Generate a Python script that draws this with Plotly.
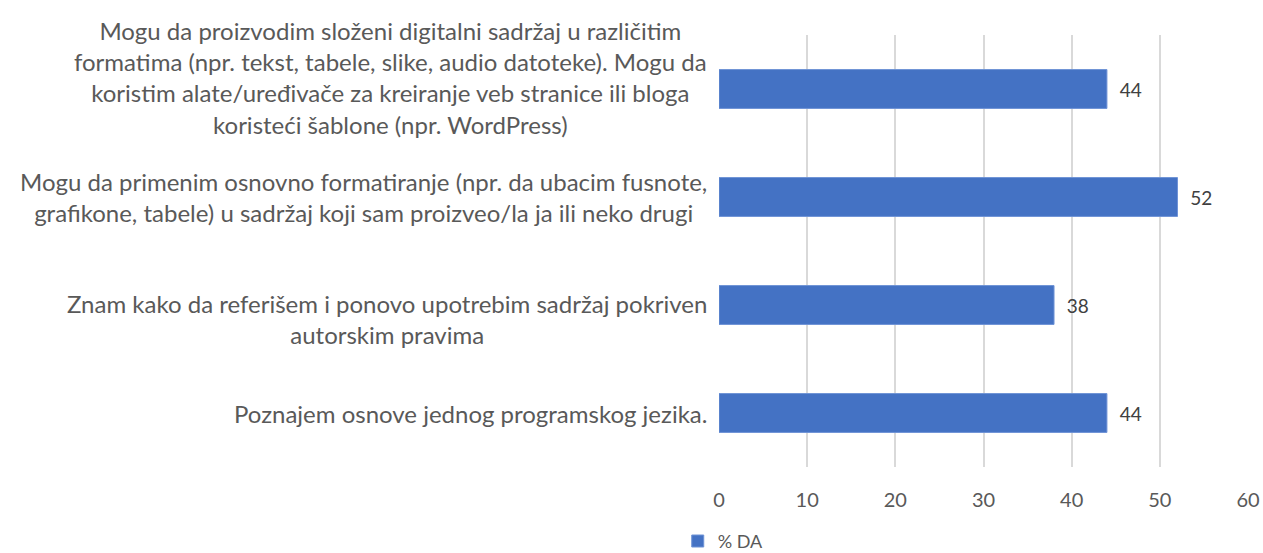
import plotly.graph_objects as go

categories = [
    "Mogu da proizvodim složeni digitalni sadržaj u različitim<br>formatima (npr. tekst, tabele, slike, audio datoteke). Mogu da<br>koristim alate/uređivače za kreiranje veb stranice ili bloga<br>koristeći šablone (npr. WordPress)",
    "Mogu da primenim osnovno formatiranje (npr. da ubacim fusnote,<br>grafikone, tabele) u sadržaj koji sam proizveo/la ja ili neko drugi",
    "Znam kako da referišem i ponovo upotrebim sadržaj pokriven<br>autorskim pravima",
    "Poznajem osnove jednog programskog jezika.",
]
values = [44, 52, 38, 44]
series_name = "% DA"
x_ticks = [0, 10, 20, 30, 40, 50, 60]

# styling: vertical nudges (px) of the category labels relative to their bars
label_yshift = [12, 0, -14, 0]

FONT = "Lato"
BLUE = "#4472C4"

fig = go.Figure()
fig.add_trace(go.Bar(
    y=list(range(len(categories))),
    x=values,
    orientation="h",
    name=series_name,
    marker=dict(color=BLUE, line=dict(color="#6f93d6", width=1)),
    text=[str(v) for v in values],
    texttemplate="  %{text}",
    textposition="outside",
    textfont=dict(family=FONT, size=19, color="#404040"),
    cliponaxis=False,
    showlegend=True,
))

for i, c in enumerate(categories):
    fig.add_annotation(
        xref="paper", yref="y", x=0, y=i,
        xanchor="right", yanchor="middle", xshift=-10, yshift=label_yshift[i],
        text=c, showarrow=False, align="center",
        font=dict(family=FONT, size=24, color="#595959"),
    )

fig.update_layout(
    width=1263, height=553,
    margin=dict(l=719, r=15, t=35, b=86, autoexpand=False),
    paper_bgcolor="white", plot_bgcolor="white",
    bargap=0.64,
    xaxis=dict(range=[0, 60], tickvals=x_ticks, showgrid=True,
               gridcolor="#d9d9d9", gridwidth=1.5, zeroline=False,
               showline=False, ticks="", automargin=False,
               ticklabelstandoff=19,
               tickfont=dict(family=FONT, size=20, color="#595959")),
    yaxis=dict(autorange="reversed", showticklabels=False, showgrid=False,
               zeroline=False, automargin=False),
    legend=dict(orientation="h", x=-0.078, xanchor="left", y=-0.172, yanchor="middle",
                font=dict(family=FONT, size=18, color="#595959"),
                itemwidth=30, tracegroupgap=0),
)
fig.write_html(
    "out.html",
    config={"displayModeBar": False},
    post_script="document.body.style.margin='0';document.body.style.overflow='hidden';",
)
